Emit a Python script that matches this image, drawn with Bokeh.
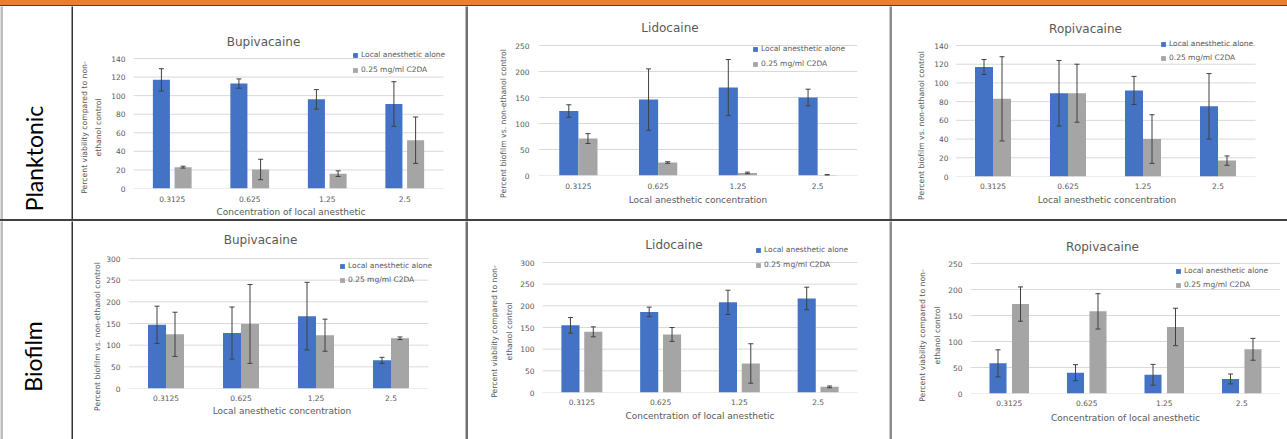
import math

from bokeh.core.validation import silence
from bokeh.core.validation.warnings import MISSING_RENDERERS
from bokeh.embed import file_html
from bokeh.layouts import column, row
from bokeh.models import (ColumnDataSource, FixedTicker, Label, Range1d, Spacer,
                          TeeHead, Whisker)
from bokeh.plotting import figure
from bokeh.resources import INLINE
from bokeh.transform import dodge

silence(MISSING_RENDERERS, True)

# ---------------------------------------------------------------- data
concentrations = ["0.3125", "0.625", "1.25", "2.5"]
series_names = ["Local anesthetic alone", "0.25 mg/ml C2DA"]
row_names = ["Planktonic", "Biofilm"]
drug_names = ["Bupivacaine", "Lidocaine", "Ropivacaine"]

# planktonic viability / biofilm (% of non-ethanol control), mean and error
plank_bupi_alone = [117, 113, 96, 91]
plank_bupi_alone_err = [12, 5, 10.5, 24]
plank_bupi_c2da = [23, 20.5, 16, 52]
plank_bupi_c2da_err = [1, 11, 3, 25]

plank_lido_alone = [124, 146, 169, 150]
plank_lido_alone_err = [12, 59, 54, 16]
plank_lido_c2da = [71, 25, 5, 1]
plank_lido_c2da_err = [9.5, 1.5, 1.5, 0.8]

plank_ropi_alone = [117, 89, 92, 75]
plank_ropi_alone_err = [8, 35, 15, 35]
plank_ropi_c2da = [83, 89, 40, 17]
plank_ropi_c2da_err = [45, 31, 26, 5]

bio_bupi_alone = [147, 128, 167, 65]
bio_bupi_alone_err = [43, 60, 78, 7]
bio_bupi_c2da = [125, 149, 123, 116]
bio_bupi_c2da_err = [51, 91, 37, 3]

bio_lido_alone = [155, 186, 208, 217]
bio_lido_alone_err = [18, 11, 28, 26]
bio_lido_c2da = [140, 134, 67, 13]
bio_lido_c2da_err = [11.5, 16, 45.5, 2]

bio_ropi_alone = [58, 40, 36, 28]
bio_ropi_alone_err = [26, 15.5, 20, 9.5]
bio_ropi_c2da = [172, 158, 128, 85]
bio_ropi_c2da_err = [33, 34, 36, 21]

# y axis maximum and tick step for each panel
axis_max = [140, 250, 140, 300, 300, 250]
axis_step = [20, 50, 20, 50, 50, 50]

viability_title = "Percent viability compared to non-\nethanol control"
biofilm_title = "Percent biofilm vs. non-ethanol control"
conc_title_a = "Concentration of local anesthetic"
conc_title_b = "Local anesthetic concentration"

# ---------------------------------------------------------------- style
BLUE = "#4472C4"
GREY = "#A5A5A5"
ERR = "#404040"
TXT = "#595959"
GRID = "#D9D9D9"
FONT = "DejaVu Sans"


def strip(w, h, color):
    """A plain coloured block: vertical rules and text holders of the table."""
    return figure(width=w, height=h, output_backend="svg", toolbar_location=None,
                  x_axis_location=None, y_axis_location=None, title_location=None,
                  min_border=0, frame_align=False,
                  background_fill_color=color, border_fill_color=color,
                  outline_line_color=None)


def hrule(w, h, color):
    """A thin horizontal band spanning the table."""
    return Spacer(width=w, height=h, styles={"background-color": color})


def text_block(text, w, h, cx, cy, size, font, color, line_height=1.2):
    """Vertical (rotated) text centred at (cx, cy) pixels from the bottom-left."""
    p = strip(w, h, "white")
    p.add_layout(Label(x=cx, y=cy, x_units="screen", y_units="screen", text=text,
                       angle=math.pi / 2, text_align="center", text_baseline="middle",
                       text_font=font, text_font_size=size, text_color=color,
                       text_line_height=line_height))
    return p


def chart(title, alone, alone_err, c2da, c2da_err, ymax, ystep, ytitle, xtitle, g):
    w, h = g["size"]
    bl, br, bt, bb = g["border"]
    a = g["ytitle_w"]
    ext = g["ext"]                              # extra frame room for the legend
    n = len(concentrations)
    fw, fh = w - bl - br, h - bt - bb           # plot area
    fh_all = h - bb                             # frame incl. title / legend room
    p = figure(x_range=Range1d(0, n * (fw + ext) / fw),
               y_range=Range1d(0, ymax * fh_all / fh),
               width=w - a, height=h, output_backend="svg", toolbar_location=None,
               title_location=None, frame_align=False,
               min_border_left=bl - a, min_border_right=br - ext,
               min_border_top=0, min_border_bottom=bb,
               outline_line_color=None, background_fill_color="white",
               border_fill_color="white")

    pos = [i + 0.5 for i in range(n)]
    src = ColumnDataSource(dict(
        pos=pos,
        alone=alone,
        alone_lo=[v - e for v, e in zip(alone, alone_err)],
        alone_hi=[v + e for v, e in zip(alone, alone_err)],
        c2da=c2da,
        c2da_lo=[max(v - e, 0) for v, e in zip(c2da, c2da_err)],
        c2da_hi=[v + e for v, e in zip(c2da, c2da_err)],
    ))

    # horizontal gridlines across the plot area only
    ticks = list(range(0, ymax + 1, ystep))
    p.segment(x0=[0] * len(ticks), x1=[n] * len(ticks), y0=ticks, y1=ticks,
              line_color=GRID, line_width=1)

    off, bw = g["offset"], g["bar"]
    for key, sign, color, name in (("alone", -1, BLUE, series_names[0]),
                                   ("c2da", 1, GREY, series_names[1])):
        p.vbar(x=dodge("pos", sign * off), top=key, width=bw, source=src,
               fill_color=color, line_color=None, legend_label=name)
        p.add_layout(Whisker(base=dodge("pos", sign * off),
                             upper=key + "_hi", lower=key + "_lo", source=src,
                             level="annotation", line_color=ERR, line_width=1,
                             upper_head=TeeHead(size=5, line_color=ERR, line_width=1),
                             lower_head=TeeHead(size=5, line_color=ERR, line_width=1)))

    # axes
    p.xgrid.visible = False
    p.ygrid.visible = False
    p.yaxis.ticker = FixedTicker(ticks=ticks)
    p.xaxis.ticker = FixedTicker(ticks=pos)
    p.xaxis.major_label_overrides = dict(zip(pos, concentrations))
    for ax in (p.xaxis, p.yaxis):
        ax.axis_line_color = None
        ax.major_tick_line_color = None
        ax.minor_tick_line_color = None
        ax.major_tick_out = 0
        ax.major_tick_in = 0
        ax.minor_tick_out = 0
        ax.major_label_text_font = FONT
        ax.major_label_text_font_size = "7.5px"
        ax.major_label_text_color = TXT
    p.yaxis.major_label_standoff = g["ystand"]
    p.xaxis.axis_label = xtitle
    p.xaxis.axis_label_text_font = FONT
    p.xaxis.axis_label_text_font_style = "normal"
    p.xaxis.axis_label_text_color = TXT
    p.xaxis.axis_label_text_font_size = "9px"
    p.xaxis.major_label_standoff = g["xstand"][0]
    p.xaxis.axis_label_standoff = g["xstand"][1]

    # chart title
    dx, dy = g["title"]
    p.add_layout(Label(x=fw / 2 + dx, y=fh + dy, x_units="screen", y_units="screen",
                       text=title, text_align="center", text_baseline="middle",
                       text_font=FONT, text_font_size="12px", text_color=TXT))

    # legend
    lg = p.legend[0]
    lg.location = g["legend"]
    lg.background_fill_alpha = 0
    lg.border_line_color = None
    lg.padding = 0
    lg.margin = 0
    lg.spacing = g["lspace"]
    lg.glyph_width = 6
    lg.glyph_height = 6
    lg.label_height = 6
    lg.label_standoff = 3
    lg.label_text_font = FONT
    lg.label_text_font_size = "7.5px"
    lg.label_text_color = TXT

    # rotated y axis title in its own narrow block left of the tick labels
    tx, ty = g["ytitle_at"]
    yt = text_block(ytitle, a, h, tx, ty, "7.7px", FONT, TXT, line_height=1.6)
    return row(yt, p)


# panel geometry: cell size, plot-area borders (l, r, t, b), legend room past
# the plot area, y-title block width and centre, title offset, legend
# position / spacing, bar dodge / width, y tick standoff, x standoffs
geoms = [
    dict(size=(392, 213), border=(60, 22, 52, 31), ext=5, ytitle_w=32, ytitle_at=(18, 92),
         title=(-25, 17), legend=(219, 114), lspace=6,
         offset=0.14, bar=0.22, ystand=8, xstand=(7, 2)),
    dict(size=(421, 213), border=(70, 32, 39, 44), ext=0, ytitle_w=42, ytitle_at=(35, 96),
         title=(-28, 18), legend=(214, 107), lspace=6,
         offset=0.12, bar=0.24, ystand=9, xstand=(7, 3)),
    dict(size=(395, 213), border=(63, 32, 39, 43), ext=3, ytitle_w=36, ytitle_at=(29, 94),
         title=(-20, 17), legend=(205, 114), lspace=5,
         offset=0.12, bar=0.24, ystand=7, xstand=(6, 3)),
    dict(size=(392, 218), border=(55, 37, 37, 51), ext=7, ytitle_w=30, ytitle_at=(24, 103),
         title=(-18, 19), legend=(211, 104), lspace=5,
         offset=0.12, bar=0.24, ystand=8, xstand=(6, 2)),
    dict(size=(421, 218), border=(74, 32, 41, 47), ext=0, ytitle_w=46, ytitle_at=(33.5, 108),
         title=(-26, 18), legend=(213, 123), lspace=6,
         offset=0.145, bar=0.23, ystand=8, xstand=(6, 3)),
    dict(size=(395, 218), border=(78, 7, 42, 46), ext=0, ytitle_w=50, ytitle_at=(37.5, 104),
         title=(-23, 17), legend=(205, 104), lspace=5,
         offset=0.145, bar=0.22, ystand=8, xstand=(6, 4)),
]

panels = [
    (drug_names[0], plank_bupi_alone, plank_bupi_alone_err, plank_bupi_c2da, plank_bupi_c2da_err, viability_title, conc_title_a),
    (drug_names[1], plank_lido_alone, plank_lido_alone_err, plank_lido_c2da, plank_lido_c2da_err, biofilm_title, conc_title_b),
    (drug_names[2], plank_ropi_alone, plank_ropi_alone_err, plank_ropi_c2da, plank_ropi_c2da_err, biofilm_title, conc_title_b),
    (drug_names[0], bio_bupi_alone, bio_bupi_alone_err, bio_bupi_c2da, bio_bupi_c2da_err, biofilm_title, conc_title_b),
    (drug_names[1], bio_lido_alone, bio_lido_alone_err, bio_lido_c2da, bio_lido_c2da_err, viability_title, conc_title_a),
    (drug_names[2], bio_ropi_alone, bio_ropi_alone_err, bio_ropi_c2da, bio_ropi_c2da_err, viability_title, conc_title_a),
]

charts = []
for i, (t, a, ae, c, ce, yt, xt) in enumerate(panels):
    charts.append(chart(t, a, ae, c, ce, axis_max[i], axis_step[i], yt, xt, geoms[i]))


def table_row(h, label, lx, ly, cells):
    head = text_block(label, 68, h, lx, ly, "23px", "Lato", "black")
    return row(strip(3, h, "#BDBDBD"), head,
               strip(2, h, "#333333"), cells[0],
               strip(3, h, "#707070"), cells[1],
               strip(3, h, "#8C8C8C"), cells[2])


page = column(
    hrule(1287, 5, "#ED7D31"),
    hrule(1287, 1, "#5E3C22"),
    table_row(213, row_names[0], 30.5, 61, charts[:3]),
    hrule(1287, 2, "#404040"),
    table_row(218, row_names[1], 29.5, 83, charts[3:]),
)

open("out.html", "w").write(file_html(page, INLINE))
